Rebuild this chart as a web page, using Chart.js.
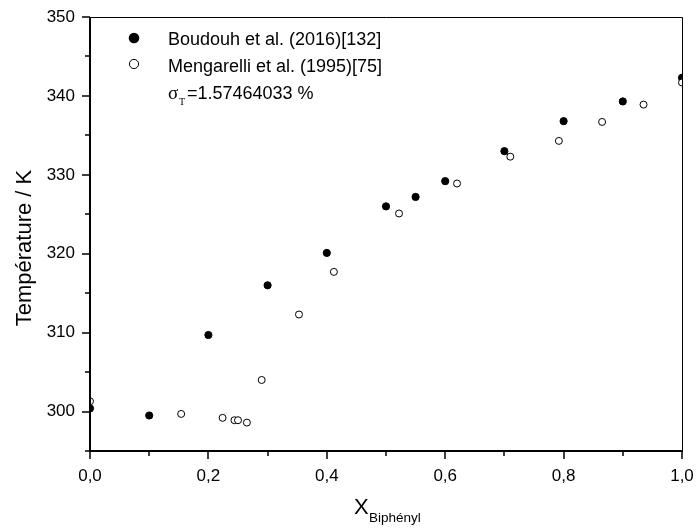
<!DOCTYPE html>
<html>
<head>
<meta charset="utf-8">
<script src="https://cdn.jsdelivr.net/npm/chart.js@4/dist/chart.umd.min.js"></script>
<style>
  html, body { margin: 0; padding: 0; background: #fff; }
  #wrap { width: 696px; height: 530px; }
</style>
</head>
<body>
<div id="wrap"><canvas id="myChart" width="696" height="530"></canvas></div>
<script>
"use strict";
const boudouhX = [0, 0.1, 0.2, 0.3, 0.4, 0.5, 0.55, 0.6, 0.7, 0.8, 0.9, 1.0];
const boudouhT = [300.4, 299.5, 309.7, 316.0, 320.1, 326.0, 327.2, 329.2, 333.0, 336.8, 339.3, 342.3];
const mengX = [0, 0.154, 0.224, 0.244, 0.25, 0.265, 0.29, 0.353, 0.412, 0.522, 0.62, 0.71, 0.792, 0.865, 0.935, 1.0];
const mengT = [301.3, 299.7, 299.2, 298.9, 298.9, 298.6, 304.0, 312.3, 317.7, 325.1, 328.9, 332.3, 334.3, 336.7, 338.9, 341.7];
const legendLabels = ["Boudouh et al. (2016)[132]", "Mengarelli et al. (1995)[75]"];
const sigmaText = "=1.57464033 %";

const FONT = "'Liberation Sans', Arial, sans-serif";

function toPoints(xs, ys) {
  return xs.map((x, i) => ({ x: x, y: ys[i] }));
}

function noPad(s) {
  s.paddingLeft = 0;
  s.paddingRight = 0;
  s.paddingTop = 0;
  s.paddingBottom = 0;
}

// axes frame, ticks, legend and titles
const framePlugin = {
  id: "frame",
  afterDraw(chart) {
    const c = chart.ctx;
    const a = chart.chartArea;
    const xs = chart.scales.x;
    const ys = chart.scales.y;
    c.save();
    c.strokeStyle = "#000";
    // thin top / right
    c.lineWidth = 1;
    c.beginPath();
    c.moveTo(a.left, a.top + 0.5);
    c.lineTo(a.right + 0.5, a.top + 0.5);
    c.lineTo(a.right + 0.5, a.bottom);
    c.stroke();
    // thick left / bottom
    c.lineWidth = 2;
    c.beginPath();
    c.moveTo(a.left, a.top);
    c.lineTo(a.left, a.bottom);
    c.lineTo(a.right + 1, a.bottom);
    c.stroke();
    // ticks
    c.lineWidth = 1.5;
    c.beginPath();
    for (let i = 0; i <= 10; i++) {
      const px = Math.round(xs.getPixelForValue(i / 10));
      const len = i % 2 === 0 ? 8 : 5;
      c.moveTo(px, a.bottom);
      c.lineTo(px, a.bottom + len);
    }
    for (let v = 295; v <= 350; v += 5) {
      const py = Math.round(ys.getPixelForValue(v));
      const len = v % 10 === 0 ? 8 : 5;
      c.moveTo(a.left, py);
      c.lineTo(a.left - len, py);
    }
    c.stroke();

    // legend
    c.fillStyle = "#000";
    c.beginPath();
    c.arc(134, 38, 5.3, 0, Math.PI * 2);
    c.fill();
    c.lineWidth = 1;
    c.beginPath();
    c.arc(134, 64, 4.6, 0, Math.PI * 2);
    c.fillStyle = "#fff";
    c.fill();
    c.stroke();
    c.fillStyle = "#000";
    c.font = "18px " + FONT;
    c.textAlign = "left";
    c.textBaseline = "alphabetic";
    c.fillText(legendLabels[0], 168, 45);
    c.fillText(legendLabels[1], 168, 72);
    c.font = "19px 'Liberation Serif', serif";
    c.fillText("\u03c3", 168, 99);
    c.font = "10px 'Liberation Serif', serif";
    c.fillText("T", 179, 105);
    c.font = "18px " + FONT;
    c.fillText(sigmaText, 187, 99);

    // axis titles
    c.font = "22px " + FONT;
    c.save();
    c.translate(31, 248);
    c.rotate(-Math.PI / 2);
    c.textAlign = "center";
    c.fillText("Température / K", 0, 0);
    c.restore();
    c.textAlign = "left";
    c.fillText("X", 354, 514);
    c.font = "13.5px " + FONT;
    c.fillText("Biphényl", 369, 522);
    c.restore();
  }
};

const ctx = document.getElementById("myChart").getContext("2d");
const config = {
  type: "scatter",
  data: {
    datasets: [
      {
        label: legendLabels[0],
        data: toPoints(boudouhX, boudouhT),
        pointRadius: 3.6,
        pointBackgroundColor: "#000",
        pointBorderColor: "#000",
        pointBorderWidth: 1,
        clip: 0,
        order: 1,
      },
      {
        label: legendLabels[1],
        data: toPoints(mengX, mengT),
        pointRadius: 3.5,
        pointBackgroundColor: "#fff",
        pointBorderColor: "#000",
        pointBorderWidth: 1,
        clip: 0,
        order: 0,
      },
    ],
  },
  options: {
    responsive: false,
    animation: false,
    events: [],
    layout: { padding: { left: 0, right: 14, top: 17, bottom: 0 } },
    plugins: { legend: { display: false }, tooltip: { enabled: false } },
    scales: {
      x: {
        type: "linear",
        min: 0,
        max: 1,
        afterFit(s) { s.height = 79; noPad(s); },
        grid: { display: false, drawTicks: false },
        border: { display: false },
        ticks: {
          stepSize: 0.1,
          autoSkip: false,
          maxRotation: 0,
          padding: 15,
          color: "#000",
          font: { family: FONT, size: 17 },
          callback: function (val) {
            const k = Math.round(val * 10);
            return k % 2 === 0 ? (k / 10).toFixed(1).replace(".", ",") : "";
          },
        },
      },
      y: {
        type: "linear",
        min: 295,
        max: 350,
        afterFit(s) { s.width = 90; noPad(s); },
        grid: { display: false, drawTicks: false },
        border: { display: false },
        ticks: {
          stepSize: 5,
          autoSkip: false,
          padding: 15,
          color: "#000",
          font: { family: FONT, size: 17 },
          callback: function (val) {
            return Math.round(val) % 10 === 0 ? String(Math.round(val)) : "";
          },
        },
      },
    },
  },
  plugins: [framePlugin],
};
const myChart = new Chart(ctx, config);
</script>
</body>
</html>
